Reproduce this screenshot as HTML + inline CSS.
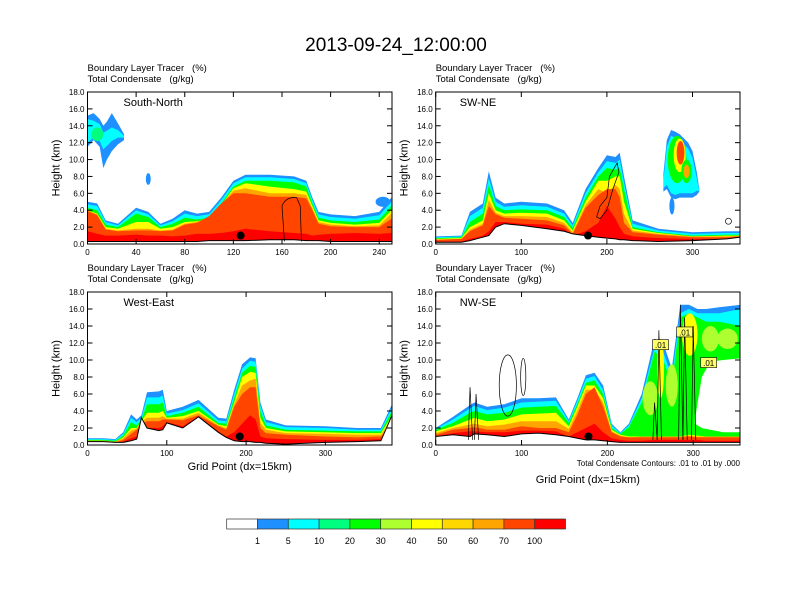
<!DOCTYPE html>
<html><head><meta charset="utf-8"><style>
html,body{margin:0;padding:0;background:#fff;}
svg{display:block;font-family:"Liberation Sans",sans-serif;}
</style></head><body>
<svg id="fig" width="792" height="612" viewBox="0 0 792 612">
<text x="396" y="51" font-size="19" text-anchor="middle">2013-09-24_12:00:00</text>
<g id="panels"></g>
<g id="cbar"></g>
</svg>
<script>
const NS="http://www.w3.org/2000/svg";
const colors=["#1e90ff","#00ffff","#00ff00","#ffff00","#ffa500","#ff4500","#ff0000","#adff2f","#00ff7f"];
const cbColors=["#ffffff","#1e90ff","#00ffff","#00ff7f","#00ff00","#adff2f","#ffff00","#ffd700","#ffa500","#ff4500","#ff0000"];
const cbLabels=["1","5","10","20","30","40","50","60","70","100"];
const yTicks=[0,2,4,6,8,10,12,14,16,18];

// Panel 1 South-North
const p1X=[0,8,15,25,40,50,60,70,80,90,100,110,120,130,150,170,180,185,190,200,220,240,250];
const p1Blue=[5.0,4.8,2.8,2.4,4.3,3.8,2.4,3.0,4.0,3.6,3.8,5.5,7.5,8.2,8.2,8.0,7.5,5.5,3.8,3.5,3.3,3.8,5.5];
const p1Cyan=[4.7,4.5,2.6,2.2,4.0,3.5,2.2,2.7,3.6,3.3,3.5,5.2,7.2,7.9,7.9,7.7,7.2,5.2,3.5,3.2,3.0,3.4,5.0];
const p1Green=[4.3,4.0,2.3,2.0,3.6,3.2,2.0,2.4,3.1,2.9,3.1,4.8,6.8,7.5,7.5,7.3,6.8,4.8,3.1,2.8,2.6,2.9,4.5];
const p1Yellow=[4.0,3.6,2.0,1.8,2.6,2.6,1.8,2.0,2.6,2.7,3.0,4.6,6.6,7.2,6.8,6.5,6.2,4.5,2.8,2.5,2.3,2.5,4.0];
const p1Orange=[4.0,3.5,1.8,1.6,1.8,1.8,1.6,1.7,2.4,2.6,3.2,4.7,6.3,6.6,6.0,6.0,5.8,4.2,2.6,2.3,2.1,2.2,3.6];
const p1ORed=[3.9,3.4,1.7,1.5,1.6,1.6,1.5,1.6,2.3,2.5,3.3,4.8,6.0,6.0,5.6,5.6,5.4,4.0,2.4,2.1,2.0,2.0,3.0];
const p1Red=[1.5,1.2,1.0,1.0,1.1,1.0,1.0,0.9,1.0,1.2,1.2,1.3,1.5,1.8,1.5,1.3,1.2,1.0,1.1,1.2,1.3,1.2,1.3];
const p1Terrain=[0.3,0.3,0.3,0.3,0.3,0.3,0.3,0.3,0.3,0.3,0.4,0.4,0.4,0.4,0.5,0.5,0.4,0.4,0.4,0.3,0.3,0.3,0.3];
const p1CloudX=[0,5,10,13,16,20,25,30];
const p1CloudBlueTop=[15.2,15.5,14.8,14.0,14.5,15.5,14.3,13.0];
const p1CloudBlueBot=[11.5,12.3,11.5,9.0,10.0,11.0,11.8,12.3];
const p1CloudCyanTop=[14.8,14.6,14.2,13.2,13.4,13.8,13.5,12.8];
const p1CloudCyanBot=[12.0,12.6,12.2,11.2,11.6,12.2,12.6,12.6];

// Panel 2 SW-NE
const p2X=[0,30,40,55,62,70,80,100,130,150,160,175,190,200,210,215,220,230,260,300,340,355];
const p2Blue=[0.9,1.0,3.8,4.8,8.6,5.5,4.8,5.0,4.8,4.0,2.5,6.5,9.0,10.5,10.3,10.8,8.0,2.8,1.8,1.4,1.5,1.5];
const p2Cyan=[0.8,0.9,3.3,4.3,7.8,5.0,4.4,4.6,4.4,3.6,2.2,6.0,8.5,9.8,9.6,10.0,7.3,2.4,1.6,1.2,1.3,1.3];
const p2Green=[0.7,0.8,2.6,3.6,7.0,4.5,4.0,4.1,4.0,3.2,1.9,5.5,8.0,9.0,8.8,9.0,6.5,2.0,1.4,1.0,1.1,1.1];
const p2Yellow=[0.6,0.7,2.0,2.8,6.0,4.0,3.6,3.7,3.6,2.8,1.6,5.0,7.5,7.5,8.0,8.0,5.0,1.8,1.3,0.9,1.0,1.0];
const p2Orange=[0.5,0.6,1.7,2.4,5.2,3.7,3.3,3.3,3.2,2.5,1.4,4.6,6.5,6.0,7.0,6.5,3.5,1.6,1.2,0.9,0.9,1.0];
const p2ORed=[0.5,0.6,1.5,2.2,4.5,3.5,3.1,3.0,2.8,2.2,1.2,4.3,5.8,6.5,6.5,5.5,2.5,1.4,1.1,0.8,0.8,0.9];
const p2Red=[0.3,0.3,0.6,1.0,1.5,2.6,2.6,2.4,2.3,1.8,1.0,1.5,2.5,4.5,3.0,2.0,1.2,0.9,0.7,0.6,0.6,0.6];
const p2Terrain=[0.2,0.2,0.4,0.8,1.0,2.0,2.4,2.2,1.8,1.5,1.2,1.0,0.8,0.7,0.6,0.5,0.5,0.4,0.3,0.4,0.6,0.8];
const p2CloudX=[266,270,275,280,285,290,295,300,305,308];
const p2CloudBlueTop=[8.3,12.3,13.5,13.3,13.0,12.5,12.0,11.0,8.5,6.5];
const p2CloudBlueBot=[6.2,6.5,5.5,5.3,5.5,5.5,5.5,5.5,5.8,6.2];
const p2CloudCyanTop=[7.5,11.5,12.8,12.6,12.3,11.8,11.3,10.2,7.8,6.3];
const p2CloudCyanBot=[6.6,7.0,6.0,5.8,6.0,6.0,6.0,6.0,6.3,6.3];
const blobX=[282,285,286,293,293,276];
const blobH=[10,10.5,10.8,8.6,8.6,4.5];
const blobRx=[11,7,4.5,6,3.5,3];
const blobRy=[2.8,2.0,1.4,1.4,0.8,1.0];
const blobC=[2,3,5,2,4,0];

// Panel 3 West-East
const p3X=[0,20,35,45,55,62,68,75,90,95,100,120,140,165,175,185,195,205,212,218,225,250,300,340,370,384];
const p3Blue=[0.8,0.8,0.7,1.5,3.6,3.0,3.5,6.2,6.3,6.5,4.0,4.5,5.3,3.2,3.1,6.5,9.5,10.3,10.2,5.0,3.0,2.3,2.2,2.0,2.0,4.8];
const p3Cyan=[0.7,0.7,0.6,1.3,3.2,2.7,3.2,5.6,5.6,5.8,3.7,4.1,4.9,2.9,2.8,6.0,9.0,9.9,9.8,4.6,2.7,2.1,2.0,1.8,1.8,4.4];
const p3Green=[0.6,0.6,0.5,1.1,2.7,2.3,3.0,4.8,4.8,5.0,3.4,3.8,4.5,2.6,2.5,5.5,8.5,9.3,9.2,4.0,2.3,1.8,1.7,1.6,1.6,4.0];
const p3Yellow=[0.5,0.5,0.4,0.9,2.0,2.0,2.8,3.8,3.8,4.0,3.2,3.4,4.0,2.4,2.2,5.0,8.0,8.6,8.5,3.2,2.0,1.6,1.5,1.4,1.4,3.5];
const p3Orange=[0.5,0.5,0.4,0.8,1.7,1.9,2.7,3.2,3.2,3.4,3.1,3.1,3.8,2.3,2.0,4.8,7.0,7.6,7.8,2.6,1.8,1.4,1.3,1.2,1.2,3.0];
const p3ORed=[0.4,0.4,0.3,0.6,1.3,1.8,2.5,2.8,2.8,3.0,3.0,2.9,3.5,2.2,1.8,4.5,6.0,6.8,6.8,2.0,1.4,1.2,1.0,0.9,1.0,2.0];
const p3Red=[0.3,0.3,0.2,0.4,0.8,1.0,2.0,2.0,2.0,2.2,2.7,2.2,3.4,1.6,1.0,1.5,2.5,3.5,3.0,1.0,0.8,0.7,0.6,0.6,0.7,1.0];
const p3Terrain=[0.4,0.4,0.3,0.3,0.5,0.7,3.2,2.0,1.7,1.8,2.6,2.0,3.3,1.5,0.9,0.5,0.4,0.4,0.3,0.3,0.2,0.1,0.3,0.4,0.5,3.5];

// Panel 4 NW-SE
const p4X=[0,20,40,45,60,80,100,120,140,155,165,175,185,195,205,215,225,240,255,265,275,285,295,305,315,330,355];
const p4Blue=[2.0,3.3,4.7,5.0,4.5,4.8,5.5,5.5,5.6,3.0,5.5,8.2,8.5,7.0,2.5,1.5,2.5,6.0,12.5,12.0,9.0,16.5,16.5,16.0,16.0,16.2,16.5];
const p4Cyan=[1.9,3.0,4.3,4.6,4.1,4.4,5.0,5.1,5.2,2.8,5.2,7.8,8.1,6.5,2.3,1.4,2.3,5.5,11.5,11.0,8.0,15.5,16.0,15.5,15.5,15.5,16.0];
const p4Green=[1.8,2.6,3.8,4.0,3.6,3.8,4.4,4.5,4.6,2.6,4.8,7.3,7.6,6.0,2.0,1.3,2.1,5.0,11.0,10.0,7.0,15.0,15.5,15.0,14.5,14.5,14.0];
const p4Yellow=[1.6,2.2,3.0,3.2,2.8,3.0,3.6,3.7,3.8,2.2,4.5,7.0,7.0,5.5,1.8,1.2,1.0,1.0,1.0,1.0,1.0,1.0,1.2,1.1,1.0,1.0,1.0];
const p4Orange=[1.4,2.0,2.4,2.5,2.2,2.4,2.8,2.8,2.8,1.9,4.0,6.5,6.5,5.0,1.6,1.1,0.9,1.0,1.0,1.0,1.0,1.0,1.1,1.0,1.0,1.0,1.0];
const p4ORed=[1.2,1.8,2.0,2.1,1.8,1.8,2.2,2.0,2.0,1.5,3.5,6.0,6.8,4.5,1.5,1.0,0.9,0.9,0.9,0.9,0.9,0.9,1.0,0.9,0.9,0.9,0.9];
const p4Red=[1.0,1.4,1.6,1.6,1.5,1.5,1.7,1.7,1.6,1.0,1.5,2.0,2.5,1.5,0.8,0.6,0.5,0.5,0.6,0.6,0.6,0.6,0.6,0.6,0.5,0.5,0.5];
const p4Terrain=[1.0,1.2,1.0,1.3,1.2,1.0,1.3,1.4,1.2,1.0,0.8,0.6,0.6,0.5,0.4,0.3,0.3,0.3,0.3,0.3,0.3,0.3,0.3,0.3,0.3,0.3,0.3];
const p4GapX=[302,310,320,335,355];
const p4GapBot=[2.5,2.0,1.8,1.5,1.5];
const p4GapTop=[3.0,8.0,9.8,10.0,10.2];
const p4PatchX=[250,262,275,296,320,340];
const p4PatchH=[5.5,9.0,7.0,13.0,12.5,12.5];
const p4PatchRx=[9,4,7,9,10,12];
const p4PatchRy=[2.0,3.5,2.5,2.5,1.5,1.2];
const p4PatchC=[7,3,7,3,7,7];
const markerX=[126,178,192,178];
const markerH=[1.0,1.0,1.0,1.0];

const panels=[
 {name:"south-north",label:"South-North",L:87.5,R:392,T:92,B:244,xmax:250.5,xt:[0,40,80,120,160,200,240],
  layers:[p1Blue,p1Cyan,p1Green,p1Yellow,p1Orange,p1ORed,p1Red],X:p1X,terrain:p1Terrain},
 {name:"sw-ne",label:"SW-NE",L:435.7,R:740,T:92,B:244,xmax:355.5,xt:[0,100,200,300],
  layers:[p2Blue,p2Cyan,p2Green,p2Yellow,p2Orange,p2ORed,p2Red],X:p2X,terrain:p2Terrain},
 {name:"west-east",label:"West-East",L:87.5,R:392,T:292,B:445,xmax:384,xt:[0,100,200,300],
  layers:[p3Blue,p3Cyan,p3Green,p3Yellow,p3Orange,p3ORed,p3Red],X:p3X,terrain:p3Terrain},
 {name:"nw-se",label:"NW-SE",L:435.7,R:740,T:292,B:445,xmax:354.5,xt:[0,100,200,300],
  layers:[p4Blue,p4Cyan,p4Green,p4Yellow,p4Orange,p4ORed,p4Red],X:p4X,terrain:p4Terrain}
];

function mk(tag,attrs,parent){const e=document.createElementNS(NS,tag);for(const k in attrs)e.setAttribute(k,attrs[k]);parent.appendChild(e);return e;}
const root=document.getElementById("panels");
const SP="\u00a0\u00a0\u00a0";

panels.forEach((p,pi)=>{
  const g=mk("g",{},root);
  
  
  const sx=v=>p.L+v/p.xmax*(p.R-p.L);
  const sy=h=>p.B-h/18*(p.B-p.T);
  const clipId="clip"+pi;
  const cp=mk("clipPath",{id:clipId},g);mk("rect",{x:p.L,y:p.T,width:p.R-p.L,height:p.B-p.T},cp);
  const plot=mk("g",{"clip-path":"url(#"+clipId+")"},g);
  function band(xs,top,bot,color,nm){
    let d="M"+xs.map((x,i)=>sx(x).toFixed(1)+","+sy(top[i]).toFixed(1)).join("L");
    if(bot){for(let i=xs.length-1;i>=0;i--)d+="L"+sx(xs[i]).toFixed(1)+","+sy(bot[i]).toFixed(1);}
    else d+="L"+sx(xs[xs.length-1]).toFixed(1)+","+sy(0)+"L"+sx(xs[0]).toFixed(1)+","+sy(0);
    const e=mk("path",{d:d+"Z",fill:color},plot);
    
    
    return e;
  }
  p.layers.forEach((arr,li)=>band(p.X,arr,null,colors[li],p.name+'-tracer-band-'+li));
  if(pi===0){
    band(p1CloudX,p1CloudBlueTop,p1CloudBlueBot,colors[0],'upper-cloud-blue');
    band(p1CloudX,p1CloudCyanTop,p1CloudCyanBot,colors[1],'upper-cloud-cyan');
    const e1=mk("ellipse",{cx:sx(8),cy:sy(13),rx:sx(5)-sx(0),ry:sy(12.2)-sy(13),fill:"#00ff7f"},plot);
    
    const e2=mk("ellipse",{cx:sx(50),cy:sy(7.7),rx:sx(2)-sx(0),ry:sy(7)-sy(7.7),fill:colors[0]},plot);
    
    const e3=mk("ellipse",{cx:sx(243),cy:sy(5),rx:sx(6)-sx(0),ry:sy(4.4)-sy(5),fill:colors[0]},plot);
    
  }
  if(pi===1){
    band(p2CloudX,p2CloudBlueTop,p2CloudBlueBot,colors[0],'upper-cloud-blue');
    band(p2CloudX,p2CloudCyanTop,p2CloudCyanBot,colors[1],'upper-cloud-cyan');
    blobX.forEach((bx,i)=>{
      const e=mk("ellipse",{cx:sx(bx),cy:sy(blobH[i]),rx:sx(blobRx[i])-sx(0),ry:sy(0)-sy(blobRy[i]),fill:colors[blobC[i]]},plot);
      
      
    });
  }
  if(pi===3){
    p4PatchX.forEach((bx,i)=>{
      const e=mk("ellipse",{cx:sx(bx),cy:sy(p4PatchH[i]),rx:sx(p4PatchRx[i])-sx(0),ry:sy(0)-sy(p4PatchRy[i]),fill:colors[p4PatchC[i]]},plot);
      
      
    });
    band(p4GapX,p4GapTop,p4GapBot,"#ffffff",'clear-gap');
  }
  let td="M"+p.X.map((x,i)=>sx(x).toFixed(1)+","+sy(p.terrain[i]).toFixed(1)).join("L");
  const tf=mk("path",{d:td+"L"+sx(p.X[p.X.length-1])+","+p.B+"L"+sx(p.X[0])+","+p.B+"Z",fill:"#fff"},plot);
  
  const tl=mk("path",{d:td,fill:"none",stroke:"#000","stroke-width":1},plot);
  
  const cs={stroke:"#000",fill:"none","stroke-width":0.7};
  if(pi===0){const c=mk("path",Object.assign({d:`M${sx(162)},${sy(0.3)}L${sx(160)},${sy(4.5)}Q${sx(163)},${sy(5.6)} ${sx(172)},${sy(5.5)}L${sx(175)},${sy(4.5)}L${sx(176)},${sy(0.3)}`},cs),plot);}
  if(pi===1){const c=mk("path",Object.assign({d:`M${sx(188)},${sy(3.2)}L${sx(192)},${sy(4.5)}L${sx(200)},${sy(5.5)}L${sx(203)},${sy(8)}L${sx(212)},${sy(9.6)}L${sx(214)},${sy(8.5)}L${sx(207)},${sy(6.5)}L${sx(200)},${sy(4)}L${sx(192)},${sy(3)}Z`},cs),plot);
    const o=mk("ellipse",Object.assign({cx:sx(342),cy:sy(2.7),rx:3,ry:3},cs),plot);}
  if(pi===3){
    const c1=mk("ellipse",Object.assign({cx:sx(84),cy:sy(7),rx:sx(10)-sx(0),ry:sy(0)-sy(3.6)},cs),plot);
    const c2=mk("ellipse",Object.assign({cx:sx(102),cy:sy(8),rx:sx(3)-sx(0),ry:sy(0)-sy(2.2)},cs),plot);
    const vl=[[40,6.8],[47,6],[260,13.5],[285,16.5],[290,15],[300,14],[255,5]];
    vl.forEach(v=>{const l=mk("path",Object.assign({d:`M${sx(v[0]-2)},${sy(0.6)}L${sx(v[0])},${sy(v[1])}L${sx(v[0]+3)},${sy(0.6)}`},cs),plot);});
    [[262,11.8],[290,13.3],[318,9.7]].forEach(q=>{
      const r=mk("rect",{x:sx(q[0])-8,y:sy(q[1])-5,width:16,height:10,fill:"#ffff66",stroke:"#000","stroke-width":0.6},g);
      
      const t=mk("text",{x:sx(q[0]),y:sy(q[1])+3.5,"font-size":"8","text-anchor":"middle"},g);t.textContent=".01";
      
    });
  }
  const m=mk("circle",{cx:sx(markerX[pi]),cy:sy(markerH[pi]),r:4,fill:"#000"},g);
  
  const fr=mk("rect",{x:p.L,y:p.T,width:p.R-p.L,height:p.B-p.T,fill:"none",stroke:"#000","stroke-width":1},g);
  
  yTicks.forEach(v=>{
    const y=sy(v);
    mk("line",{x1:p.L,x2:p.L+5,y1:y,y2:y,stroke:"#000"},g);
    mk("line",{x1:p.R,x2:p.R-5,y1:y,y2:y,stroke:"#000"},g);
    const t=mk("text",{x:p.L-3,y:y+3,"font-size":"8","text-anchor":"end"},g);t.textContent=v.toFixed(1);
    
  });
  p.xt.forEach(v=>{
    const x=sx(v);
    mk("line",{x1:x,x2:x,y1:p.B,y2:p.B-5,stroke:"#000"},g);
    mk("line",{x1:x,x2:x,y1:p.T,y2:p.T+5,stroke:"#000"},g);
    const t=mk("text",{x:x,y:p.B+11,"font-size":"8","text-anchor":"middle"},g);t.textContent=String(v);
    
  });
  const yt=mk("text",{x:0,y:0,"font-size":"11","text-anchor":"middle",transform:`translate(${p.L-28},${(p.T+p.B)/2}) rotate(-90)`},g);yt.textContent="Height (km)";
  
  const h1=mk("text",{x:p.L,y:p.T-21,"font-size":"9.5"},g);h1.textContent="Boundary Layer Tracer"+SP+"(%)";
  
  const h2=mk("text",{x:p.L,y:p.T-10,"font-size":"9.5"},g);h2.textContent="Total Condensate"+SP+"(g/kg)";
  
  const lb=mk("text",{x:p.L+(pi%2?24:36),y:p.T+14,"font-size":"11"},g);lb.textContent=p.label;
  
  if(pi===2){const xt=mk("text",{x:(p.L+p.R)/2,y:p.B+25,"font-size":"11","text-anchor":"middle"},g);xt.textContent="Grid Point (dx=15km)";}
  if(pi===3){
    const ct=mk("text",{x:p.R,y:p.B+21,"font-size":"8","text-anchor":"end"},g);ct.textContent="Total Condensate Contours: .01 to .01 by .000";
    
    const xt=mk("text",{x:(p.L+p.R)/2,y:p.B+38,"font-size":"11","text-anchor":"middle"},g);xt.textContent="Grid Point (dx=15km)";
  }
});

const cb=document.getElementById("cbar");
const cbL=226.7,cbW=30.8,cbT=519,cbH=10;
cbColors.forEach((c,i)=>{
  const r=mk("rect",{x:cbL+i*cbW,y:cbT,width:cbW,height:cbH,fill:c,stroke:"#333","stroke-width":0.7},cb);
  
});
cbLabels.forEach((s,i)=>{
  const t=mk("text",{x:cbL+(i+1)*cbW,y:cbT+25,"font-size":"9","text-anchor":"middle"},cb);t.textContent=s;
  
});
</script>
</body></html>
